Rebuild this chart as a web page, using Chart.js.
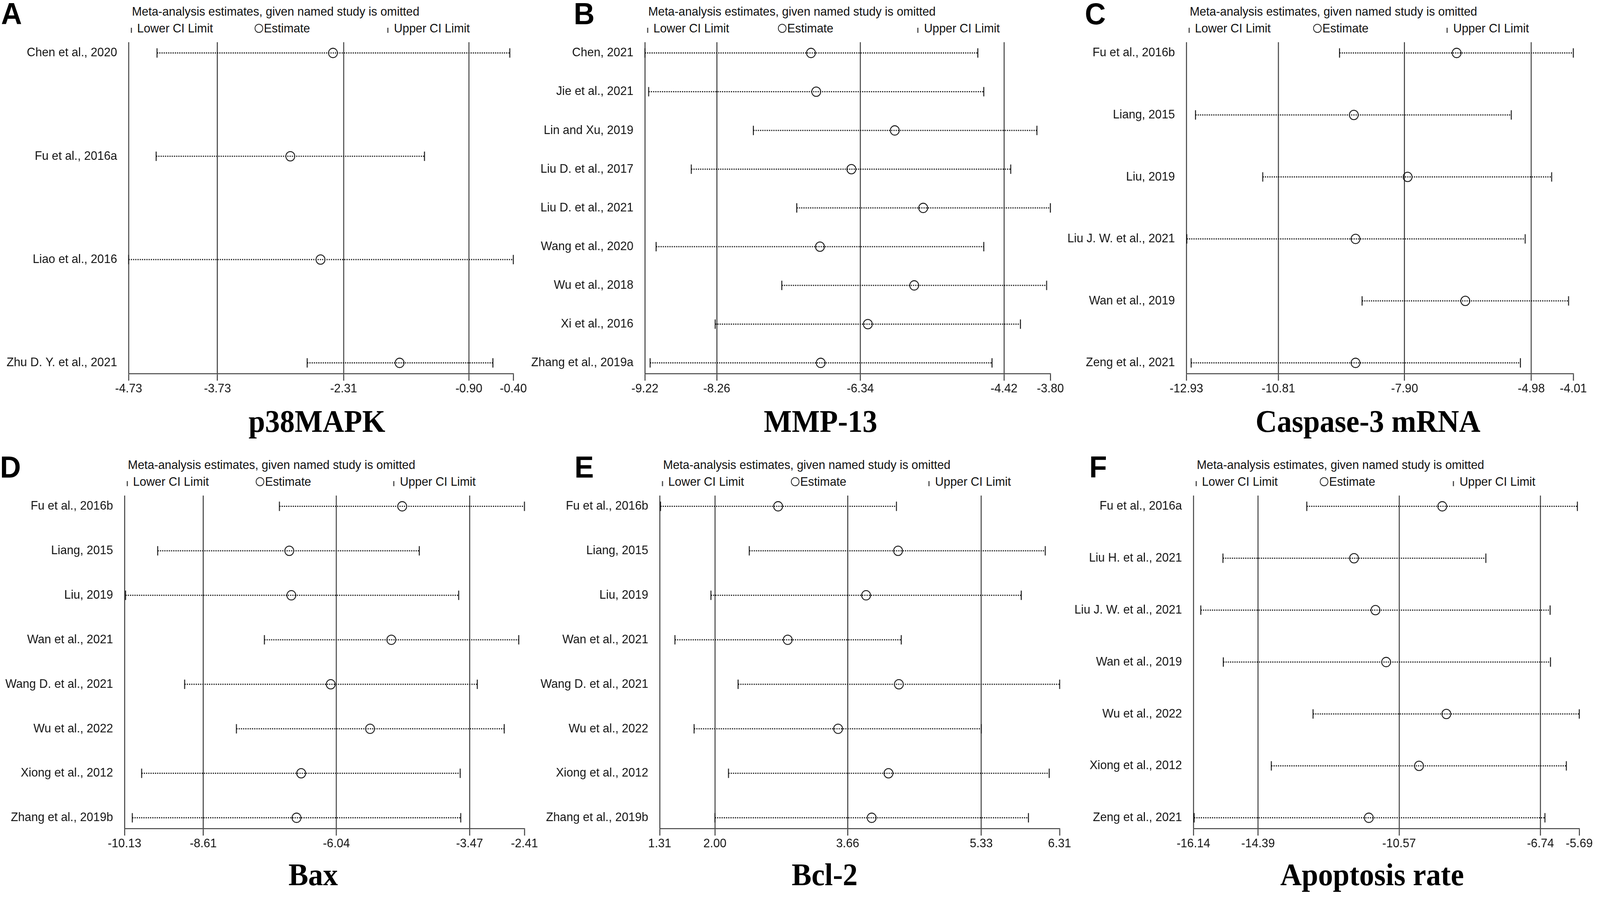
<!DOCTYPE html>
<html lang="en">
<head>
<meta charset="UTF-8">
<title>Sensitivity analysis</title>
<script src="https://cdn.jsdelivr.net/npm/chart.js@4.4.0/dist/chart.umd.min.js"></script>
<style>
  html, body { margin: 0; padding: 0; background: #fff; overflow: hidden; }
  #wrap { position: relative; overflow: hidden; background: #fff; }
  #fig { position: absolute; left: 0; top: 0; width: 4317px; height: 2308px; background: #fff; overflow: hidden; transform-origin: 0 0; }
  .t { position: absolute; white-space: nowrap; line-height: 1; color: #111;
       font-family: "Liberation Sans", Arial, sans-serif; }
  .bar { position: absolute; width: 3px; height: 13px; background: #444; }
  .ring { position: absolute; width: 19px; height: 19px; border: 2px solid #222; border-radius: 50%; }
</style>
</head>
<body>
<div id="wrap"><div id="fig"></div></div>
<script>
    // ---- data ----
    const studiesA = ['Chen et al., 2020', 'Fu et al., 2016a', 'Liao et al., 2016', 'Zhu D. Y. et al., 2021'];
    const lowerA = [-4.41, -4.42, -4.73, -2.72];
    const estA   = [-2.43, -2.91, -2.57, -1.68];
    const upperA = [-0.44, -1.40, -0.40, -0.63];
    const ticksA = [-4.73, -3.73, -2.31, -0.90, -0.40];

    const studiesB = ['Chen, 2021', 'Jie et al., 2021', 'Lin and Xu, 2019', 'Liu D. et al., 2017', 'Liu D. et al., 2021',
                      'Wang et al., 2020', 'Wu et al., 2018', 'Xi et al., 2016', 'Zhang et al., 2019a'];
    const lowerB = [-9.22, -9.17, -7.77, -8.60, -7.19, -9.07, -7.39, -8.28, -9.15];
    const estB   = [-7.00, -6.93, -5.88, -6.46, -5.50, -6.88, -5.62, -6.24, -6.87];
    const upperB = [-4.77, -4.69, -3.98, -4.33, -3.80, -4.69, -3.85, -4.20, -4.58];
    const ticksB = [-9.22, -8.26, -6.34, -4.42, -3.80];

    const studiesC = ['Fu et al., 2016b', 'Liang, 2015', 'Liu, 2019', 'Liu J. W. et al., 2021', 'Wan et al., 2019', 'Zeng et al., 2021'];
    const lowerC = [-9.40, -12.72, -11.17, -12.92, -8.88, -12.82];
    const estC   = [-6.70, -9.07, -7.83, -9.03, -6.50, -9.03];
    const upperC = [-4.01, -5.44, -4.51, -5.12, -4.12, -5.23];
    const ticksC = [-12.93, -10.81, -7.90, -4.98, -4.01];

    const studiesD = ['Fu et al., 2016b', 'Liang, 2015', 'Liu, 2019', 'Wan et al., 2021', 'Wang D. et al., 2021',
                      'Wu et al., 2022', 'Xiong et al., 2012', 'Zhang et al., 2019b'];
    const lowerD = [-7.14, -9.49, -10.11, -7.43, -8.97, -7.97, -9.80, -9.98];
    const estD   = [-4.77, -6.95, -6.91, -4.98, -6.15, -5.39, -6.72, -6.81];
    const upperD = [-2.41, -4.44, -3.68, -2.52, -3.32, -2.80, -3.65, -3.64];
    const ticksD = [-10.13, -8.61, -6.04, -3.47, -2.41];

    const studiesE = studiesD;
    const lowerE = [1.32, 2.43, 1.95, 1.50, 2.29, 1.74, 2.17, 2.00];
    const estE   = [2.79, 4.29, 3.89, 2.91, 4.30, 3.54, 4.17, 3.96];
    const upperE = [4.27, 6.13, 5.83, 4.33, 6.31, 5.33, 6.18, 5.92];
    const ticksE = [1.31, 2.00, 3.66, 5.33, 6.31];

    const studiesF = ['Fu et al., 2016a', 'Liu H. et al., 2021', 'Liu J. W. et al., 2021', 'Wan et al., 2019',
                      'Wu et al., 2022', 'Xiong et al., 2012', 'Zeng et al., 2021'];
    const lowerF = [-13.07, -15.34, -15.94, -15.33, -12.90, -14.03, -16.12];
    const estF   = [-9.40, -11.79, -11.21, -10.92, -9.29, -10.03, -11.39];
    const upperF = [-5.74, -8.22, -6.48, -6.47, -5.69, -6.04, -6.62];
    const ticksF = [-16.14, -14.39, -10.57, -6.74, -5.69];

    const letters = ['A', 'B', 'C', 'D', 'E', 'F'];
    const titles = ['p38MAPK', 'MMP-13', 'Caspase-3 mRNA', 'Bax', 'Bcl-2', 'Apoptosis rate'];
    const headerText = 'Meta-analysis estimates, given named study is omitted';

    // ---- layout ----
    const colX = [0, 1430, 2870];
    const rows = [
        {top: 0,    plotTop: 108, plotBottom: 956},
        {top: 1160, plotTop: 108, plotBottom: 960}
    ];
    const panels = [
        {studies: studiesA, lower: lowerA, est: estA, upper: upperA, ticks: ticksA, col: 0, row: 0, plotLeft: 347,  plotRight: 1385, titleX: 855,  letterX: 3},
        {studies: studiesB, lower: lowerB, est: estB, upper: upperB, ticks: ticksB, col: 1, row: 0, plotLeft: 1740, plotRight: 2834, titleX: 2214, letterX: 1548},
        {studies: studiesC, lower: lowerC, est: estC, upper: upperC, ticks: ticksC, col: 2, row: 0, plotLeft: 3201, plotRight: 4245, titleX: 3691, letterX: 2927},
        {studies: studiesD, lower: lowerD, est: estD, upper: upperD, ticks: ticksD, col: 0, row: 1, plotLeft: 336,  plotRight: 1415, titleX: 845,  letterX: 0},
        {studies: studiesE, lower: lowerE, est: estE, upper: upperE, ticks: ticksE, col: 1, row: 1, plotLeft: 1780, plotRight: 2859, titleX: 2225, letterX: 1550},
        {studies: studiesF, lower: lowerF, est: estF, upper: upperF, ticks: ticksF, col: 2, row: 1, plotLeft: 3220, plotRight: 4261, titleX: 3702, letterX: 2939}
    ];

    Chart.defaults.font.family = '"Liberation Sans", Arial, sans-serif';
    Chart.defaults.color = '#111';

    // stretch the 4317x2308 figure over the whole viewport; the wrapper keeps the page that size
    const vw = window.innerWidth, vh = window.innerHeight;
    const sx = vw / 4317, sy = vh / 2308;
    const wrap = document.getElementById('wrap');
    wrap.style.width = vw + 'px';
    wrap.style.height = vh + 'px';
    const fig = document.getElementById('fig');
    fig.style.transform = 'scale(' + sx + ',' + sy + ')';
    const pxRatio = Math.max(sx, sy) * (window.devicePixelRatio || 1);

    const W = 1500, H = 1040;

    function addText(txt, left, top, css) {
        const d = document.createElement('div');
        d.className = 't';
        d.textContent = txt;
        d.style.left = left + 'px';
        d.style.top = top + 'px';
        if (css) d.style.cssText += css;
        fig.appendChild(d);
        return d;
    }
    function addBox(cls, left, top) {
        const d = document.createElement('div');
        d.className = cls;
        d.style.left = left + 'px';
        d.style.top = top + 'px';
        fig.appendChild(d);
    }

    panels.forEach((p, k) => {
        const row = rows[p.row];
        const left = colX[p.col];
        const plotW = p.plotRight - p.plotLeft;

        // letter, header, legend, title
        addText(letters[k], p.letterX, row.top - 4, 'font-size:78px;font-weight:bold;color:#000;');
        addText(headerText, p.plotLeft + 9, row.top + 13, 'font-size:32px;');
        addBox('bar', p.plotLeft + 6, row.top + 71);
        addText('Lower CI Limit', p.plotLeft + 23, row.top + 56, 'font-size:32px;');
        const cx = p.plotLeft + Math.round(0.328 * plotW);
        addBox('ring', cx, row.top + 61);
        addText('Estimate', cx + 25, row.top + 56, 'font-size:32px;');
        const ux = p.plotLeft + Math.round(0.672 * plotW);
        addBox('bar', ux, row.top + 71);
        addText('Upper CI Limit', ux + 18, row.top + 56, 'font-size:32px;');
        addText(titles[k], p.titleX - 500, row.top + 1038,
            'width:1000px;text-align:center;font-size:80px;font-weight:bold;color:#000;font-family:"Liberation Serif","Times New Roman",serif;');

        // chart
        const cv = document.createElement('canvas');
        cv.width = W;
        cv.height = H;
        cv.style.cssText = 'position:absolute;left:' + left + 'px;top:' + row.top + 'px;';
        fig.appendChild(cv);

        const n = p.studies.length;
        const plotH = row.plotBottom - row.plotTop;
        const inset = 27.5;
        const pad = inset * (n - 1) / (plotH - 2 * inset);

        const ciSets = p.studies.map((s, i) => ({
            label: s,
            data: [{x: p.lower[i], y: i}, {x: p.upper[i], y: i}],
            showLine: true,
            borderColor: '#111',
            borderWidth: 3,
            borderDash: [3, 3],
            pointStyle: 'line',
            pointRotation: 90,
            pointRadius: 12,
            pointBorderWidth: 2.5,
            pointBorderColor: '#111',
            clip: false
        }));
        const estSet = {
            label: 'Estimate',
            data: p.est.map((v, i) => ({x: v, y: i})),
            pointStyle: 'circle',
            pointRadius: 12,
            pointBorderWidth: 2.3,
            pointBorderColor: '#111',
            pointBackgroundColor: 'rgba(0,0,0,0)',
            clip: false
        };

        new Chart(cv, {
            type: 'scatter',
            data: {datasets: ciSets.concat([estSet])},
            options: {
                responsive: false,
                animation: false,
                devicePixelRatio: pxRatio,
                events: [],
                layout: {padding: {left: 0, top: row.plotTop, right: W - (p.plotRight - left), bottom: 0}},
                plugins: {legend: {display: false}, tooltip: {enabled: false}},
                scales: {
                    x: {
                        type: 'linear',
                        min: p.ticks[0],
                        max: p.ticks[p.ticks.length - 1],
                        afterBuildTicks: a => { a.ticks = p.ticks.map(v => ({value: v})); },
                        afterFit: s => { s.height = H - row.plotBottom; },
                        ticks: {autoSkip: false, maxRotation: 0, padding: 2, color: '#111',
                                font: {size: 32}, callback: v => Number(v).toFixed(2)},
                        grid: {drawTicks: true, tickLength: 18, tickWidth: 2.5, tickColor: '#333', lineWidth: 2.5,
                               color: c => c.index === p.ticks.length - 1 ? 'rgba(0,0,0,0)' : '#333'},
                        border: {color: '#444', width: 2.5}
                    },
                    y: {
                        type: 'linear',
                        reverse: true,
                        min: -pad,
                        max: n - 1 + pad,
                        afterBuildTicks: a => { a.ticks = p.studies.map((_, i) => ({value: i})); },
                        afterFit: s => { s.width = p.plotLeft - left; },
                        ticks: {autoSkip: false, padding: 23, color: '#111', font: {size: 32},
                                callback: v => p.studies[v]},
                        grid: {display: false},
                        border: {display: false}
                    }
                }
            }
        });
    });
</script>
</body>
</html>
